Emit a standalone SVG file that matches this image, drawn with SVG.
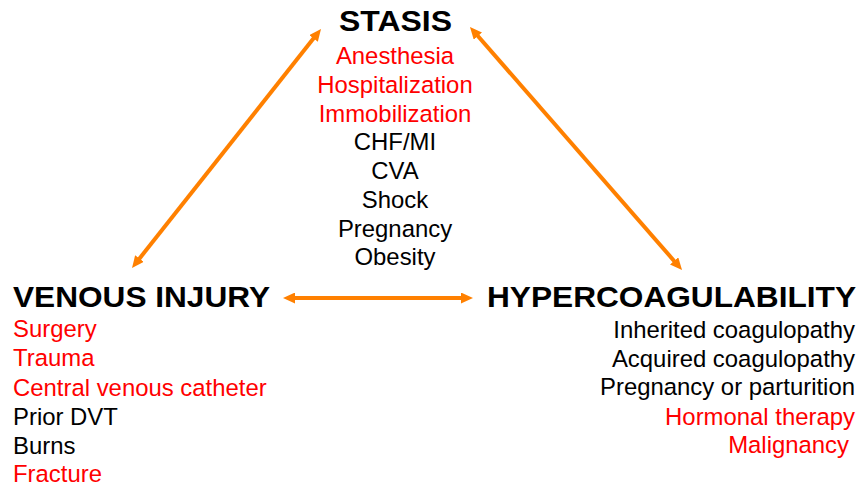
<svg xmlns="http://www.w3.org/2000/svg" width="862" height="487" viewBox="0 0 862 487">
  <style>
    text { font-family: "Liberation Sans", Arial, sans-serif; }
    .title { font-size: 30px; font-weight: bold; fill: #000000; }
    .item { font-size: 23.9px; fill: #000000; }
    .red { fill: #FF0000; }
    .conn { stroke: #FF8000; stroke-width: 4; fill: none; }
  </style>
  <defs>
    <marker id="ah" viewBox="0 0 12 11" refX="3" refY="5.5" markerWidth="12" markerHeight="11" markerUnits="userSpaceOnUse" orient="auto-start-reverse">
      <path d="M0,0 L12,5.5 L0,11 z" fill="#FF8000"/>
    </marker>
  </defs>
  <rect width="862" height="487" fill="#FFFFFF"/>

  <g id="connectors">
    <line class="conn" x1="137.6" y1="260.9" x2="315.4" y2="36.1" marker-start="url(#ah)" marker-end="url(#ah)"/>
    <line class="conn" x1="475.9" y1="33.8" x2="676.1" y2="263.2" marker-start="url(#ah)" marker-end="url(#ah)"/>
    <line class="conn" x1="292" y1="298" x2="464" y2="298" marker-start="url(#ah)" marker-end="url(#ah)"/>
  </g>

  <g id="stasis" text-anchor="middle">
    <text class="title" x="395.5" y="31" textLength="113" lengthAdjust="spacingAndGlyphs">STASIS</text>
    <text class="item red" x="395" y="64">Anesthesia</text>
    <text class="item red" x="395" y="93">Hospitalization</text>
    <text class="item red" x="395" y="122">Immobilization</text>
    <text class="item" x="395" y="150">CHF/MI</text>
    <text class="item" x="395" y="179">CVA</text>
    <text class="item" x="395" y="208">Shock</text>
    <text class="item" x="395" y="237">Pregnancy</text>
    <text class="item" x="395" y="265">Obesity</text>
  </g>

  <g id="venous-injury">
    <text class="title" x="13" y="307" textLength="257" lengthAdjust="spacingAndGlyphs">VENOUS INJURY</text>
    <text class="item red" x="13" y="337">Surgery</text>
    <text class="item red" x="13" y="366">Trauma</text>
    <text class="item red" x="13" y="396">Central venous catheter</text>
    <text class="item" x="13" y="425">Prior DVT</text>
    <text class="item" x="13" y="454">Burns</text>
    <text class="item red" x="13" y="482">Fracture</text>
  </g>

  <g id="hypercoagulability" text-anchor="end">
    <text class="title" x="856" y="307" textLength="369" lengthAdjust="spacingAndGlyphs">HYPERCOAGULABILITY</text>
    <text class="item" x="855" y="338">Inherited coagulopathy</text>
    <text class="item" x="855" y="367">Acquired coagulopathy</text>
    <text class="item" x="855" y="395">Pregnancy or parturition</text>
    <text class="item red" x="855" y="425">Hormonal therapy</text>
    <text class="item red" x="849" y="453">Malignancy</text>
  </g>
</svg>
